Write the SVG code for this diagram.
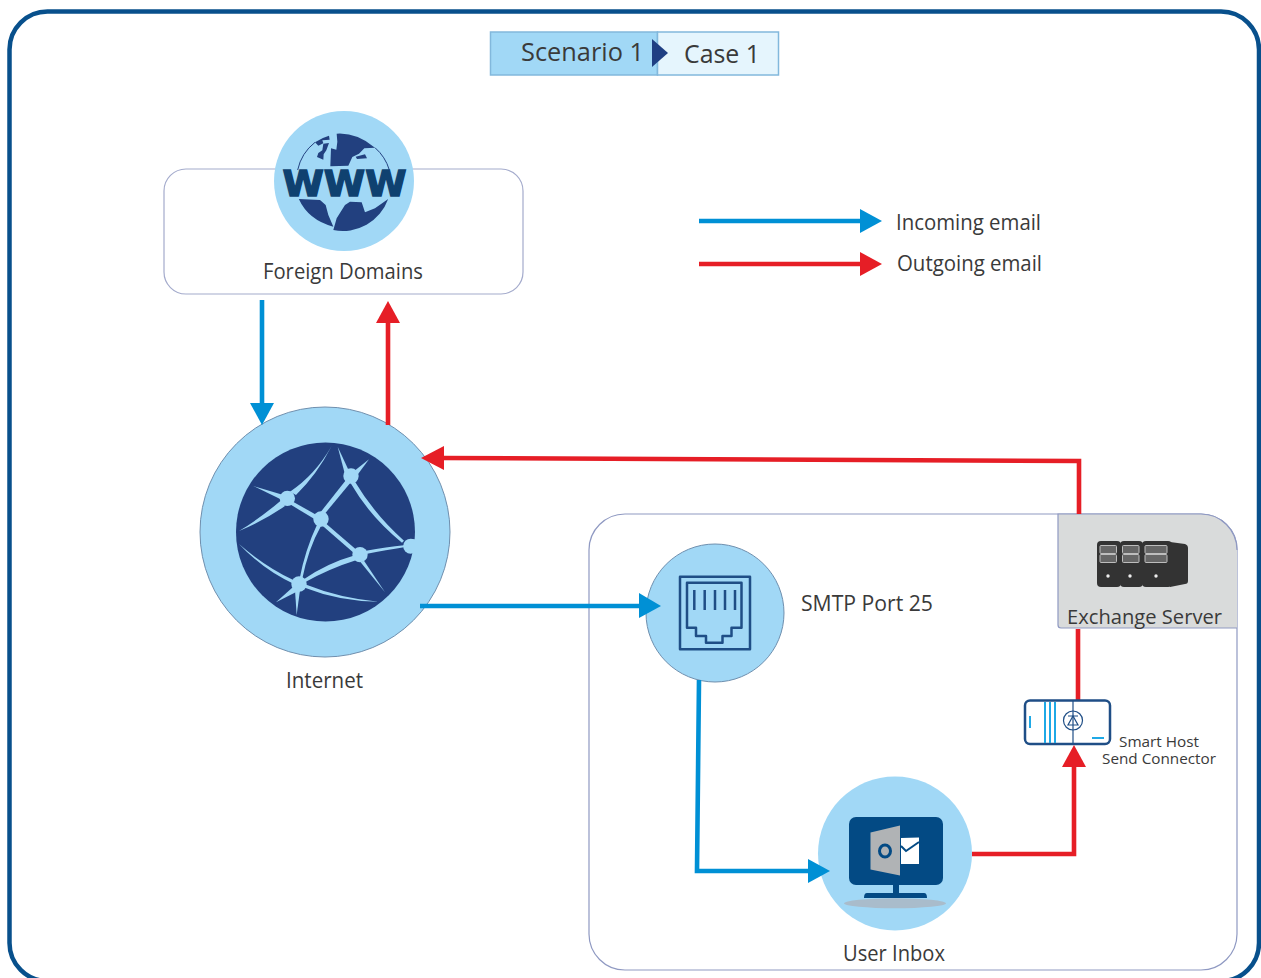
<svg xmlns="http://www.w3.org/2000/svg" width="1261" height="978" viewBox="0 0 1261 978">
<style>
text{font-family:"Open Sans","Noto Sans","Liberation Sans",sans-serif;fill:#3a3a3a}
.l{font-size:21px}
.circ{fill:#a1d8f6}
.edge{stroke:#6f8fae;stroke-width:1}
.in{fill:none;stroke:#0090d5;stroke-width:4.600}
.out{fill:none;stroke:#e61e26;stroke-width:4.600}
.hb{fill:#0090d5}.hr{fill:#e61e26}
.net{fill:#a1d8f6}
.nv{fill:none;stroke:#1f4e86;stroke-width:2.500;stroke-linejoin:round}
.cy{fill:none;stroke:#1fa9e6;stroke-width:2}
.sv{fill:#333}
.sl{fill:#666;stroke:#bdbdbd;stroke-width:1}
</style>
<rect width="1261" height="978" fill="#fff"/>
<rect id="frame" x="9.500" y="11.500" width="1249.500" height="969.500" rx="38" fill="#fff" stroke="#08508c" stroke-width="4.500"/>

<g id="header">
<rect x="490.500" y="32" width="167" height="43" fill="#a1d8f6" stroke="#82b8dc" stroke-width="1.500"/>
<rect x="657.500" y="32" width="121" height="43" fill="#e5f5fd" stroke="#82b8dc" stroke-width="1.500"/>
<polygon points="652,39 668,53 652,67" fill="#1f3f83"/>
<text x="521" y="61" font-size="25" textLength="123" lengthAdjust="spacingAndGlyphs">Scenario 1</text>
<text x="684" y="63" font-size="25" textLength="76" lengthAdjust="spacingAndGlyphs">Case 1</text>
</g>

<g id="foreign-domains">
<rect x="164" y="169" width="359" height="125" rx="22" fill="#fff" stroke="#a4abcc" stroke-width="1.200"/>
<circle class="circ" cx="344" cy="181" r="70"/>
<g transform="translate(295,125) scale(.33333)" fill="#22407f">
<path d="M8,135A144,144 0 0 1 60,52" fill="none" stroke="#22407f" stroke-width="3"/>
<path d="M240,68A144,144 0 0 1 283,135" fill="none" stroke="#22407f" stroke-width="3"/>
<path d="M60,52Q80,38 102,32L104,44L82,46L85,55L70,62Z"/>
<path d="M85,56L102,54L94,76L86,88L85,104L66,96L70,84L82,76Z"/>
<path d="M125,26Q185,22 240,68L208,70L192,86L172,96L160,122L106,124L108,70L124,74L127,50Z"/>
<path d="M182,95L210,88L216,100L186,102Z"/>
<path d="M11.500,222L75,225L92,240L100,270L115,305Q40,285 11.500,222Z"/>
<path d="M115,315L125,280L150,240L165,230L200,232L210,262L240,250L279.500,222A144,144 0 0 1 115,315Z"/>
</g>
<text x="282.500" y="196" font-size="36" font-weight="bold" textLength="124" lengthAdjust="spacingAndGlyphs" stroke="#0f4170" stroke-width="1.400" style="font-family:'DejaVu Sans',sans-serif;fill:#0f4170">WWW</text>
<text class="l" x="263" y="279" textLength="160" lengthAdjust="spacingAndGlyphs">Foreign Domains</text>
</g>

<g id="internet">
<circle class="circ edge" cx="325" cy="532" r="125"/>
<circle cx="325.500" cy="532" r="89.500" fill="#22407f"/>
<g class="net" transform="translate(190,400) scale(.33333)">
<circle cx="292" cy="295" r="23"/><circle cx="483" cy="228" r="23"/><circle cx="393" cy="357" r="23"/><circle cx="510" cy="464" r="23"/><circle cx="327" cy="552" r="23"/><path d="M662,416A22,22 0 0 0 662,461L675,458L675,418Z"/>
<path d="M300,275Q375,225 425,138Q380,225 318,285Z"/>
<path d="M280,285L190,258L272,298Z"/>
<path d="M272,302Q210,355 147,393Q225,360 285,318Z"/>
<path d="M305,303L385,348L382,362L300,313Z"/>
<path d="M478,215L443,140L468,235Z"/>
<path d="M490,215L537,178L497,232Z"/>
<path d="M468,240L385,345L397,350L480,250Z"/>
<path d="M495,245Q555,345 642,422L636,428Q540,350 482,250Z"/>
<path d="M405,368L500,450L495,462L395,375Z"/>
<path d="M382,372Q345,450 328,540L336,540Q355,445 393,378Z"/>
<path d="M528,452Q590,442 642,436L642,442Q590,450 528,462Z"/>
<path d="M522,482L585,577L512,487Z"/>
<path d="M495,466Q410,490 338,540L342,548Q420,505 500,480Z"/>
<path d="M310,540Q225,500 147,432Q220,510 312,552Z"/>
<path d="M310,560L258,607L320,575Z"/>
<path d="M315,570L320,645L330,570Z"/>
<path d="M345,553Q450,595 565,605Q450,605 340,562Z"/>
</g>
<text class="l" x="286" y="688" textLength="77" lengthAdjust="spacingAndGlyphs">Internet</text>
</g>

<g id="legend">
<text class="l" x="896" y="230" textLength="145" lengthAdjust="spacingAndGlyphs">Incoming email</text>
<text class="l" x="897" y="271" textLength="145" lengthAdjust="spacingAndGlyphs">Outgoing email</text>
</g>

<g id="site-boundary">
<rect x="589" y="514" width="648" height="456" rx="36" fill="#fff" stroke="#8f99c2" stroke-width="1.200"/>
</g>

<g id="exchange-server">
<path d="M1058,514H1201A36,36 0 0 1 1237,550V628H1061A3,3 0 0 1 1058,625Z" fill="#d9dbdb"/>
<path d="M1237,550A36,36 0 0 0 1201,514H1058V625A3,3 0 0 0 1061,628H1237" fill="none" stroke="#8f99c2" stroke-width="1.200"/>
<path d="M1170,542L1185,544Q1188,545 1188,548V581Q1188,584 1185,584L1170,587Z" class="sv"/>
<rect class="sv" x="1097" y="541" width="24" height="46" rx="4"/>
<rect class="sv" x="1120" y="541" width="23" height="46" rx="4"/>
<rect class="sv" x="1142" y="541" width="30" height="46" rx="4"/>
<g class="sl">
<rect x="1100" y="545.500" width="16.500" height="8" rx="1"/><rect x="1100" y="554.500" width="16.500" height="8" rx="1"/>
<rect x="1122.500" y="545.500" width="16.500" height="8" rx="1"/><rect x="1122.500" y="554.500" width="16.500" height="8" rx="1"/>
<rect x="1145" y="545.500" width="22" height="8" rx="1"/><rect x="1145" y="554.500" width="22" height="8" rx="1"/>
</g>
<circle cx="1108" cy="576" r="1.700" fill="#eee"/><circle cx="1130" cy="576" r="1.700" fill="#eee"/><circle cx="1156" cy="576" r="1.700" fill="#eee"/>
<text x="1067" y="623.500" font-size="20.500" textLength="155" lengthAdjust="spacingAndGlyphs">Exchange Server</text>
</g>

<g id="smtp-port">
<circle class="circ edge" cx="715" cy="613" r="69"/>
<rect class="nv" x="680" y="576.700" width="70" height="72.500"/>
<path class="nv" d="M687,582.700H741.500V627.700H731.500V636H722.500V642.700H706V636H696V627.700H687Z"/>
<path class="nv" d="M694.300,590V610M704.700,590V610M715,590V610M725,590V610M735,590V610"/>
<text class="l" x="801" y="611" textLength="132" lengthAdjust="spacingAndGlyphs">SMTP Port 25</text>
</g>

<g id="user-inbox">
<circle class="circ" cx="895" cy="853.500" r="77"/>
<rect x="849" y="817" width="94" height="68" rx="7" fill="#034a84"/>
<ellipse cx="895" cy="903.300" rx="51" ry="5" fill="#a9bccb"/>
<path d="M893,885H899V893H924Q927,893 927,898H864Q864,893 867,893H893Z" fill="#034a84"/>
<polygon points="901,838 919,837.500 919,864 901,864" fill="#fff"/>
<path d="M901,846L906,851L919,842" fill="none" stroke="#034a84" stroke-width="2"/>
<polygon points="870.500,832.500 900,825.500 900,875.500 870.500,869.500" fill="#b0b3b5"/>
<ellipse cx="885" cy="851" rx="5.500" ry="6" fill="none" stroke="#034a84" stroke-width="3"/>
<text class="l" x="843" y="961" textLength="102" lengthAdjust="spacingAndGlyphs">User Inbox</text>
</g>

<g id="connectors">
<path class="in" d="M699,221H860"/><polygon class="hb" points="860,209 882,221 860,233"/>
<path class="out" d="M699,264H860"/><polygon class="hr" points="860,252 882,264 860,276"/>
<path class="in" d="M262,300V404"/><polygon class="hb" points="250,403 274,403 262,425"/>
<path class="out" d="M388,425V322"/><polygon class="hr" points="376,323 400,323 388,301"/>
<path class="out" d="M1079,514V461L442,458"/><polygon class="hr" points="444,446 444,470 421,458"/>
<path class="in" d="M420,606H641"/><polygon class="hb" points="639,593 661,606 639,618"/>
<path class="in" d="M699,680L697,871H809"/><polygon class="hb" points="808,859 830,871 808,883"/>
<path class="out" d="M972,854H1074V767"/>
<path class="out" d="M1078,629V701"/>
</g>

<g id="smart-host">
<rect x="1025" y="700.500" width="85" height="43.500" rx="5" fill="#fff" stroke="#1f4e86" stroke-width="2.500"/>
<path class="cy" d="M1045,702V743M1050,702V743M1055,702V743M1030,716V728M1092,738H1104"/>
<path d="M1073,701V743" stroke="#1f4e86" stroke-width="1.200"/>
<circle cx="1073" cy="720.500" r="9.500" fill="none" stroke="#1f4e86" stroke-width="1.200"/>
<path d="M1068,716H1078M1068,725H1078L1073,716Z" fill="none" stroke="#1f4e86" stroke-width="1.200"/>
<text font-size="15"><tspan x="1119" y="747" textLength="80" lengthAdjust="spacingAndGlyphs">Smart Host</tspan><tspan x="1102" y="764" textLength="114" lengthAdjust="spacingAndGlyphs">Send Connector</tspan></text>
</g>
<polygon class="hr" points="1062,767 1086,767 1074,745"/>
</svg>
